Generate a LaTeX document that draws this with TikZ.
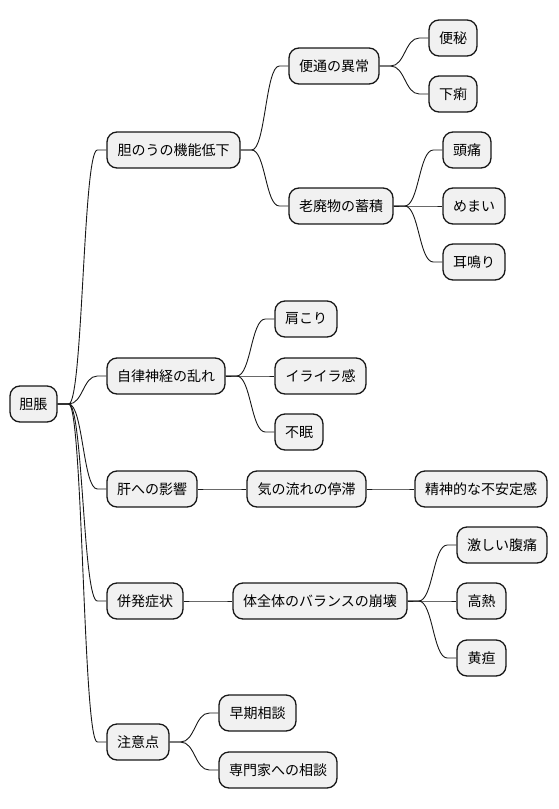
\documentclass[tikz,border=0pt]{standalone}
\usepackage{fontspec}
\newfontfamily\jp{Noto Sans CJK JP}
\usetikzlibrary{calc}
\definecolor{nodefill}{HTML}{F1F1F1}
\definecolor{nodeline}{HTML}{181818}
\tikzset{
  mm/.style={draw=nodeline, fill=nodefill, line width=1.3pt, rounded corners=10pt,
    minimum height=36pt, inner sep=0pt, font=\jp\fontsize{14pt}{16pt}\selectfont, text=black},
  conn/.style={draw=nodeline, line width=0.9pt}
}
\newcommand\mmlink[2]{%
  \draw[conn] let \p1=(#1.east), \p2=(#2.west) in
    (\p1) -- (\x1+11pt,\y1) .. controls ({(\x1+\x2)/2+1pt},\y1) and ({(\x1+\x2)/2+1pt},\y2) .. (\x2-9pt,\y2) -- (\p2);}
\begin{document}
\begin{tikzpicture}[x=1pt,y=-1pt]
\useasboundingbox (0,0) rectangle (558,809);
% root
\node[mm, minimum width=47pt] (root) at (33.5,404) {胆脹};
% level 1
\node[mm, minimum width=133pt] (a) at (173.5,150) {胆のうの機能低下};
\node[mm, minimum width=118pt] (b) at (166,376) {自律神経の乱れ};
\node[mm, minimum width=90pt] (c) at (152,489) {肝への影響};
\node[mm, minimum width=76pt] (d) at (145,601) {併発症状};
\node[mm, minimum width=62pt] (e) at (138,742) {注意点};
% level 2
\node[mm, minimum width=90pt] (a1) at (334,66) {便通の異常};
\node[mm, minimum width=104pt] (a2) at (341,206) {老廃物の蓄積};
\node[mm, minimum width=62pt] (b1) at (306,319) {肩こり};
\node[mm, minimum width=91pt] (b2) at (320.5,376) {イライラ感};
\node[mm, minimum width=48pt] (b3) at (299,432) {不眠};
\node[mm, minimum width=119pt] (c1) at (306.5,489) {気の流れの停滞};
\node[mm, minimum width=174pt] (d1) at (320,601) {体全体のバランスの崩壊};
\node[mm, minimum width=77pt] (e1) at (257.5,713) {早期相談};
\node[mm, minimum width=118pt] (e2) at (278,770) {専門家への相談};
% level 3
\node[mm, minimum width=48pt] (a11) at (453,38) {便秘};
\node[mm, minimum width=48pt] (a12) at (453,94) {下痢};
\node[mm, minimum width=48pt] (a21) at (467,150) {頭痛};
\node[mm, minimum width=62pt] (a22) at (474,206) {めまい};
\node[mm, minimum width=62pt] (a23) at (474,262) {耳鳴り};
\node[mm, minimum width=132pt] (c11) at (481,489) {精神的な不安定感};
\node[mm, minimum width=90pt] (d11) at (502,545) {激しい腹痛};
\node[mm, minimum width=49pt] (d12) at (481.5,601) {高熱};
\node[mm, minimum width=49pt] (d13) at (481.5,658) {黄疸};
% links
\mmlink{root}{a}\mmlink{root}{b}\mmlink{root}{c}\mmlink{root}{d}\mmlink{root}{e}
\mmlink{a}{a1}\mmlink{a}{a2}
\mmlink{a1}{a11}\mmlink{a1}{a12}
\mmlink{a2}{a21}\mmlink{a2}{a22}\mmlink{a2}{a23}
\mmlink{b}{b1}\mmlink{b}{b2}\mmlink{b}{b3}
\mmlink{c}{c1}\mmlink{c1}{c11}
\mmlink{d}{d1}\mmlink{d1}{d11}\mmlink{d1}{d12}\mmlink{d1}{d13}
\mmlink{e}{e1}\mmlink{e}{e2}
\end{tikzpicture}
\end{document}
